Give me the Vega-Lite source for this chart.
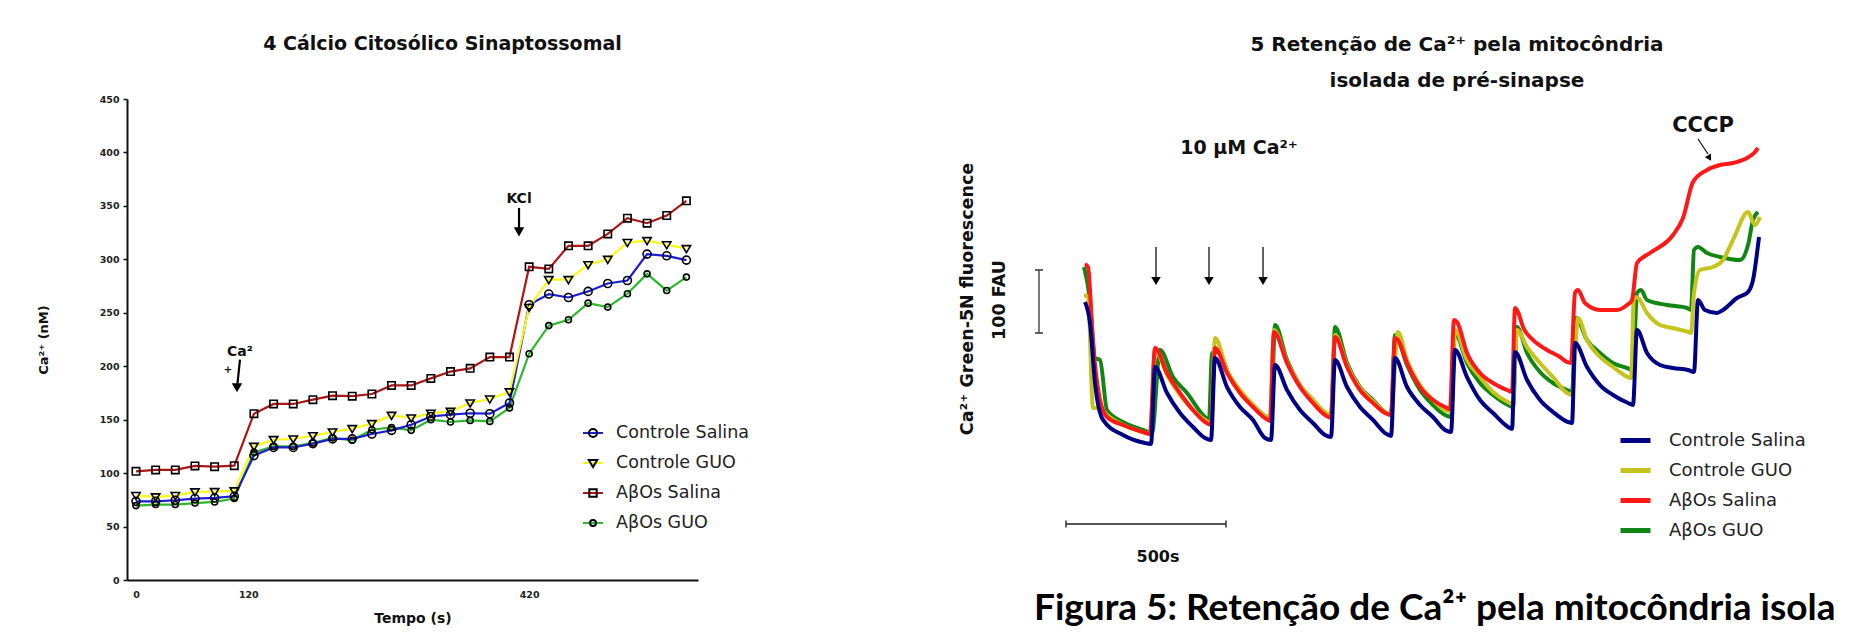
{
  "$schema": "https://vega.github.io/schema/vega-lite/v6.json",
  "autosize": {"type": "none"},
  "padding": {"left": 127, "top": 99, "right": 1732, "bottom": 533},
  "background": "white",
  "bounds": "flush",
  "spacing": 242,
  "config": {
    "view": {"stroke": null},
    "font": "DejaVu Sans",
    "axis": {"grid": false, "domainColor": "#111", "domainWidth": 2, "tickColor": "#111", "labelColor": "#222", "labelFont": "DejaVu Sans", "labelFontWeight": "bold", "labelFontSize": 9.5, "titleFont": "DejaVu Sans", "titleFontWeight": "bold", "titleColor": "#111", "labelOverlap": false, "labelFlush": false},
    "legend": {"labelFont": "DejaVu Sans", "labelColor": "#222"},
    "title": {"font": "DejaVu Sans", "fontWeight": "bold", "color": "#111"}
  },
  "resolve": {"scale": {"color": "independent", "shape": "independent"}, "legend": {"color": "independent", "shape": "independent"}},
  "datasets": {
    "left": [
      {"s":"AβOs GUO","t":0,"v":69.6},{"s":"AβOs GUO","t":21,"v":70.6},{"s":"AβOs GUO","t":42,"v":70.6},{"s":"AβOs GUO","t":63,"v":72},{"s":"AβOs GUO","t":84,"v":73},{"s":"AβOs GUO","t":105,"v":76.2},{"s":"AβOs GUO","t":126,"v":119.4},{"s":"AβOs GUO","t":147,"v":125},{"s":"AβOs GUO","t":168,"v":125},{"s":"AβOs GUO","t":189,"v":128.2},{"s":"AβOs GUO","t":210,"v":132.9},{"s":"AβOs GUO","t":231,"v":130.7},{"s":"AβOs GUO","t":252,"v":140.6},{"s":"AβOs GUO","t":273,"v":142.7},{"s":"AβOs GUO","t":294,"v":140},{"s":"AβOs GUO","t":315,"v":150},{"s":"AβOs GUO","t":336,"v":147.8},{"s":"AβOs GUO","t":357,"v":149.3},{"s":"AβOs GUO","t":378,"v":148.4},{"s":"AβOs GUO","t":399,"v":161},{"s":"AβOs GUO","t":420,"v":211.7},{"s":"AβOs GUO","t":441,"v":238},{"s":"AβOs GUO","t":462,"v":243.5},{"s":"AβOs GUO","t":483,"v":259},{"s":"AβOs GUO","t":504,"v":255.3},{"s":"AβOs GUO","t":525,"v":267.8},{"s":"AβOs GUO","t":546,"v":286.4},{"s":"AβOs GUO","t":567,"v":270.8},{"s":"AβOs GUO","t":588,"v":283.4},
      {"s":"Controle Salina","t":0,"v":73.6},{"s":"Controle Salina","t":21,"v":73.6},{"s":"Controle Salina","t":42,"v":74.6},{"s":"Controle Salina","t":63,"v":76.2},{"s":"Controle Salina","t":84,"v":76.8},{"s":"Controle Salina","t":105,"v":78.3},{"s":"Controle Salina","t":126,"v":116.4},{"s":"Controle Salina","t":147,"v":124},{"s":"Controle Salina","t":168,"v":124},{"s":"Controle Salina","t":189,"v":127.6},{"s":"Controle Salina","t":210,"v":132},{"s":"Controle Salina","t":231,"v":132},{"s":"Controle Salina","t":252,"v":136.6},{"s":"Controle Salina","t":273,"v":140},{"s":"Controle Salina","t":294,"v":145.3},{"s":"Controle Salina","t":315,"v":153},{"s":"Controle Salina","t":336,"v":154.7},{"s":"Controle Salina","t":357,"v":156},{"s":"Controle Salina","t":378,"v":155.6},{"s":"Controle Salina","t":399,"v":165.6},{"s":"Controle Salina","t":420,"v":257.5},{"s":"Controle Salina","t":441,"v":267.5},{"s":"Controle Salina","t":462,"v":264.3},{"s":"Controle Salina","t":483,"v":270},{"s":"Controle Salina","t":504,"v":277.4},{"s":"Controle Salina","t":525,"v":280.2},{"s":"Controle Salina","t":546,"v":304.9},{"s":"Controle Salina","t":567,"v":303.3},{"s":"Controle Salina","t":588,"v":299.3},
      {"s":"Controle GUO","t":0,"v":79},{"s":"Controle GUO","t":21,"v":77.8},{"s":"Controle GUO","t":42,"v":79},{"s":"Controle GUO","t":63,"v":82.4},{"s":"Controle GUO","t":84,"v":82.7},{"s":"Controle GUO","t":105,"v":83.4},{"s":"Controle GUO","t":126,"v":125},{"s":"Controle GUO","t":147,"v":131.3},{"s":"Controle GUO","t":168,"v":131.9},{"s":"Controle GUO","t":189,"v":135},{"s":"Controle GUO","t":210,"v":138.5},{"s":"Controle GUO","t":231,"v":141.6},{"s":"Controle GUO","t":252,"v":146.3},{"s":"Controle GUO","t":273,"v":154},{"s":"Controle GUO","t":294,"v":151.6},{"s":"Controle GUO","t":315,"v":156},{"s":"Controle GUO","t":336,"v":157.8},{"s":"Controle GUO","t":357,"v":165.6},{"s":"Controle GUO","t":378,"v":169.3},{"s":"Controle GUO","t":399,"v":176},{"s":"Controle GUO","t":420,"v":255},{"s":"Controle GUO","t":441,"v":281},{"s":"Controle GUO","t":462,"v":281},{"s":"Controle GUO","t":483,"v":295},{"s":"Controle GUO","t":504,"v":300},{"s":"Controle GUO","t":525,"v":315.7},{"s":"Controle GUO","t":546,"v":317.5},{"s":"Controle GUO","t":567,"v":313.6},{"s":"Controle GUO","t":588,"v":310},
      {"s":"AβOs Salina","t":0,"v":101.7},{"s":"AβOs Salina","t":21,"v":103},{"s":"AβOs Salina","t":42,"v":103},{"s":"AβOs Salina","t":63,"v":106.7},{"s":"AβOs Salina","t":84,"v":106},{"s":"AβOs Salina","t":105,"v":107},{"s":"AβOs Salina","t":126,"v":155.6},{"s":"AβOs Salina","t":147,"v":164.7},{"s":"AβOs Salina","t":168,"v":164.7},{"s":"AβOs Salina","t":189,"v":168.7},{"s":"AβOs Salina","t":210,"v":172.4},{"s":"AβOs Salina","t":231,"v":172},{"s":"AβOs Salina","t":252,"v":174},{"s":"AβOs Salina","t":273,"v":182},{"s":"AβOs Salina","t":294,"v":182},{"s":"AβOs Salina","t":315,"v":188.6},{"s":"AβOs Salina","t":336,"v":195},{"s":"AβOs Salina","t":357,"v":198},{"s":"AβOs Salina","t":378,"v":208.6},{"s":"AβOs Salina","t":399,"v":208.6},{"s":"AβOs Salina","t":420,"v":293},{"s":"AβOs Salina","t":441,"v":291},{"s":"AβOs Salina","t":462,"v":312.6},{"s":"AβOs Salina","t":483,"v":312.6},{"s":"AβOs Salina","t":504,"v":323.8},{"s":"AβOs Salina","t":525,"v":338.5},{"s":"AβOs Salina","t":546,"v":333.8},{"s":"AβOs Salina","t":567,"v":341},{"s":"AβOs Salina","t":588,"v":354.7}
    ],
    "right": [
      {"s":"AβOs GUO","t":-3.1,"F":496.8},{"s":"AβOs GUO","t":15.6,"F":444.4},{"s":"AβOs GUO","t":31.3,"F":352.4},{"s":"AβOs GUO","t":46.9,"F":349.2},{"s":"AβOs GUO","t":68.8,"F":269.8},{"s":"AβOs GUO","t":118.8,"F":250.8},{"s":"AβOs GUO","t":181.3,"F":238.1},{"s":"AβOs GUO","t":209.4,"F":233.3},{"s":"AβOs GUO","t":234.4,"F":365.1},{"s":"AβOs GUO","t":275,"F":322.2},{"s":"AβOs GUO","t":318.8,"F":296.8},{"s":"AβOs GUO","t":368.8,"F":261.9},{"s":"AβOs GUO","t":387.5,"F":254},{"s":"AβOs GUO","t":396.9,"F":360.3},{"s":"AβOs GUO","t":415.6,"F":361.9},{"s":"AβOs GUO","t":453.1,"F":322.2},{"s":"AβOs GUO","t":484.4,"F":298.4},{"s":"AβOs GUO","t":525,"F":277.8},{"s":"AβOs GUO","t":562.5,"F":260.3},{"s":"AβOs GUO","t":581.3,"F":255.6},{"s":"AβOs GUO","t":593.8,"F":404.8},{"s":"AβOs GUO","t":631.3,"F":349.2},{"s":"AβOs GUO","t":671.9,"F":309.5},{"s":"AβOs GUO","t":712.5,"F":285.7},{"s":"AβOs GUO","t":750,"F":265.1},{"s":"AβOs GUO","t":768.8,"F":260.3},{"s":"AβOs GUO","t":781.3,"F":401.6},{"s":"AβOs GUO","t":818.8,"F":344.4},{"s":"AβOs GUO","t":859.4,"F":306.3},{"s":"AβOs GUO","t":900,"F":285.7},{"s":"AβOs GUO","t":937.5,"F":266.7},{"s":"AβOs GUO","t":956.3,"F":261.9},{"s":"AβOs GUO","t":968.8,"F":388.9},{"s":"AβOs GUO","t":1006.3,"F":341.3},{"s":"AβOs GUO","t":1046.9,"F":301.6},{"s":"AβOs GUO","t":1087.5,"F":277.8},{"s":"AβOs GUO","t":1125,"F":261.9},{"s":"AβOs GUO","t":1143.8,"F":258.7},{"s":"AβOs GUO","t":1156.3,"F":392.1},{"s":"AβOs GUO","t":1193.8,"F":344.4},{"s":"AβOs GUO","t":1234.4,"F":312.7},{"s":"AβOs GUO","t":1275,"F":293.7},{"s":"AβOs GUO","t":1321.9,"F":277.8},{"s":"AβOs GUO","t":1337.5,"F":274.6},{"s":"AβOs GUO","t":1350,"F":401.6},{"s":"AβOs GUO","t":1381.3,"F":360.3},{"s":"AβOs GUO","t":1421.9,"F":330.2},{"s":"AβOs GUO","t":1462.5,"F":312.7},{"s":"AβOs GUO","t":1506.3,"F":301.6},{"s":"AβOs GUO","t":1521.9,"F":298.4},{"s":"AβOs GUO","t":1534.4,"F":415.9},{"s":"AβOs GUO","t":1568.8,"F":381},{"s":"AβOs GUO","t":1609.4,"F":360.3},{"s":"AβOs GUO","t":1650,"F":344.4},{"s":"AβOs GUO","t":1693.8,"F":336.5},{"s":"AβOs GUO","t":1712.5,"F":333.3},{"s":"AβOs GUO","t":1725,"F":455.6},{"s":"AβOs GUO","t":1737.5,"F":460.3},{"s":"AβOs GUO","t":1756.3,"F":444.4},{"s":"AβOs GUO","t":1818.8,"F":436.5},{"s":"AβOs GUO","t":1881.3,"F":431.7},{"s":"AβOs GUO","t":1893.8,"F":428.6},{"s":"AβOs GUO","t":1903.1,"F":523.8},{"s":"AβOs GUO","t":1915.6,"F":528.6},{"s":"AβOs GUO","t":1943.8,"F":519},{"s":"AβOs GUO","t":1984.4,"F":512.7},{"s":"AβOs GUO","t":2046.9,"F":507.9},{"s":"AβOs GUO","t":2071.9,"F":531.7},{"s":"AβOs GUO","t":2087.5,"F":571.4},{"s":"AβOs GUO","t":2103.1,"F":584.1},
      {"s":"Controle GUO","t":-3.1,"F":452.4},{"s":"Controle GUO","t":9.4,"F":449.2},{"s":"Controle GUO","t":25,"F":273},{"s":"Controle GUO","t":46.9,"F":273},{"s":"Controle GUO","t":68.8,"F":261.9},{"s":"Controle GUO","t":118.8,"F":246},{"s":"Controle GUO","t":181.3,"F":234.9},{"s":"Controle GUO","t":203.1,"F":231.7},{"s":"Controle GUO","t":218.8,"F":365.1},{"s":"Controle GUO","t":256.3,"F":325.4},{"s":"Controle GUO","t":296.9,"F":293.7},{"s":"Controle GUO","t":337.5,"F":269.8},{"s":"Controle GUO","t":375,"F":254},{"s":"Controle GUO","t":393.8,"F":249.2},{"s":"Controle GUO","t":406.3,"F":384.1},{"s":"Controle GUO","t":443.8,"F":333.3},{"s":"Controle GUO","t":484.4,"F":301.6},{"s":"Controle GUO","t":525,"F":277.8},{"s":"Controle GUO","t":562.5,"F":260.3},{"s":"Controle GUO","t":578.1,"F":255.6},{"s":"Controle GUO","t":590.6,"F":396.8},{"s":"Controle GUO","t":631.3,"F":346},{"s":"Controle GUO","t":671.9,"F":309.5},{"s":"Controle GUO","t":712.5,"F":285.7},{"s":"Controle GUO","t":750,"F":266.7},{"s":"Controle GUO","t":768.8,"F":261.9},{"s":"Controle GUO","t":781.3,"F":388.9},{"s":"Controle GUO","t":818.8,"F":341.3},{"s":"Controle GUO","t":859.4,"F":304.8},{"s":"Controle GUO","t":900,"F":284.1},{"s":"Controle GUO","t":937.5,"F":266.7},{"s":"Controle GUO","t":956.3,"F":263.5},{"s":"Controle GUO","t":978.1,"F":393.7},{"s":"Controle GUO","t":1006.3,"F":349.2},{"s":"Controle GUO","t":1046.9,"F":309.5},{"s":"Controle GUO","t":1087.5,"F":285.7},{"s":"Controle GUO","t":1125,"F":269.8},{"s":"Controle GUO","t":1143.8,"F":266.7},{"s":"Controle GUO","t":1156.3,"F":396.8},{"s":"Controle GUO","t":1193.8,"F":349.2},{"s":"Controle GUO","t":1234.4,"F":322.2},{"s":"Controle GUO","t":1275,"F":298.4},{"s":"Controle GUO","t":1321.9,"F":282.5},{"s":"Controle GUO","t":1337.5,"F":279.4},{"s":"Controle GUO","t":1350,"F":396.8},{"s":"Controle GUO","t":1381.3,"F":369.8},{"s":"Controle GUO","t":1421.9,"F":344.4},{"s":"Controle GUO","t":1462.5,"F":322.2},{"s":"Controle GUO","t":1506.3,"F":296.8},{"s":"Controle GUO","t":1521.9,"F":293.7},{"s":"Controle GUO","t":1540.6,"F":415.9},{"s":"Controle GUO","t":1568.8,"F":381},{"s":"Controle GUO","t":1609.4,"F":354},{"s":"Controle GUO","t":1650,"F":338.1},{"s":"Controle GUO","t":1696.9,"F":322.2},{"s":"Controle GUO","t":1706.3,"F":320.6},{"s":"Controle GUO","t":1715.6,"F":449.2},{"s":"Controle GUO","t":1728.1,"F":447.6},{"s":"Controle GUO","t":1756.3,"F":423.8},{"s":"Controle GUO","t":1796.9,"F":404.8},{"s":"Controle GUO","t":1837.5,"F":400},{"s":"Controle GUO","t":1884.4,"F":393.7},{"s":"Controle GUO","t":1893.8,"F":392.1},{"s":"Controle GUO","t":1903.1,"F":455.6},{"s":"Controle GUO","t":1921.9,"F":492.1},{"s":"Controle GUO","t":1962.5,"F":496.8},{"s":"Controle GUO","t":1993.8,"F":507.9},{"s":"Controle GUO","t":2025,"F":539.7},{"s":"Controle GUO","t":2071.9,"F":584.1},{"s":"Controle GUO","t":2093.8,"F":563.5},{"s":"Controle GUO","t":2109.4,"F":576.2},
      {"s":"AβOs Salina","t":0,"F":501.6},{"s":"AβOs Salina","t":9.4,"F":496.8},{"s":"AβOs Salina","t":25,"F":376.2},{"s":"AβOs Salina","t":46.9,"F":285.7},{"s":"AβOs Salina","t":68.8,"F":258.7},{"s":"AβOs Salina","t":118.8,"F":246},{"s":"AβOs Salina","t":181.3,"F":234.9},{"s":"AβOs Salina","t":203.1,"F":231.7},{"s":"AβOs Salina","t":218.8,"F":368.3},{"s":"AβOs Salina","t":256.3,"F":328.6},{"s":"AβOs Salina","t":296.9,"F":296.8},{"s":"AβOs Salina","t":337.5,"F":269.8},{"s":"AβOs Salina","t":375,"F":250.8},{"s":"AβOs Salina","t":393.8,"F":246},{"s":"AβOs Salina","t":406.3,"F":368.3},{"s":"AβOs Salina","t":443.8,"F":328.6},{"s":"AβOs Salina","t":484.4,"F":296.8},{"s":"AβOs Salina","t":525,"F":274.6},{"s":"AβOs Salina","t":562.5,"F":257.1},{"s":"AβOs Salina","t":578.1,"F":252.4},{"s":"AβOs Salina","t":590.6,"F":393.7},{"s":"AβOs Salina","t":631.3,"F":344.4},{"s":"AβOs Salina","t":671.9,"F":306.3},{"s":"AβOs Salina","t":712.5,"F":281},{"s":"AβOs Salina","t":750,"F":261.9},{"s":"AβOs Salina","t":768.8,"F":257.1},{"s":"AβOs Salina","t":781.3,"F":385.7},{"s":"AβOs Salina","t":818.8,"F":338.1},{"s":"AβOs Salina","t":859.4,"F":301.6},{"s":"AβOs Salina","t":900,"F":281},{"s":"AβOs Salina","t":937.5,"F":265.1},{"s":"AβOs Salina","t":956.3,"F":261.9},{"s":"AβOs Salina","t":968.8,"F":384.1},{"s":"AβOs Salina","t":978.1,"F":381},{"s":"AβOs Salina","t":1006.3,"F":344.4},{"s":"AβOs Salina","t":1046.9,"F":306.3},{"s":"AβOs Salina","t":1087.5,"F":285.7},{"s":"AβOs Salina","t":1125,"F":274.6},{"s":"AβOs Salina","t":1140.6,"F":271.4},{"s":"AβOs Salina","t":1153.1,"F":412.7},{"s":"AβOs Salina","t":1162.5,"F":409.5},{"s":"AβOs Salina","t":1193.8,"F":360.3},{"s":"AβOs Salina","t":1234.4,"F":328.6},{"s":"AβOs Salina","t":1275,"F":312.7},{"s":"AβOs Salina","t":1318.8,"F":301.6},{"s":"AβOs Salina","t":1334.4,"F":298.4},{"s":"AβOs Salina","t":1343.8,"F":431.7},{"s":"AβOs Salina","t":1353.1,"F":425.4},{"s":"AβOs Salina","t":1368.8,"F":401.6},{"s":"AβOs Salina","t":1400,"F":381},{"s":"AβOs Salina","t":1443.8,"F":365.1},{"s":"AβOs Salina","t":1484.4,"F":354},{"s":"AβOs Salina","t":1506.3,"F":346},{"s":"AβOs Salina","t":1518.8,"F":344.4},{"s":"AβOs Salina","t":1531.3,"F":455.6},{"s":"AβOs Salina","t":1540.6,"F":460.3},{"s":"AβOs Salina","t":1562.5,"F":439.7},{"s":"AβOs Salina","t":1609.4,"F":428.6},{"s":"AβOs Salina","t":1662.5,"F":428.6},{"s":"AβOs Salina","t":1693.8,"F":436.5},{"s":"AβOs Salina","t":1709.4,"F":444.4},{"s":"AβOs Salina","t":1725,"F":503.2},{"s":"AβOs Salina","t":1765.6,"F":519},{"s":"AβOs Salina","t":1837.5,"F":547.6},{"s":"AβOs Salina","t":1868.8,"F":574.6},{"s":"AβOs Salina","t":1900,"F":631.7},{"s":"AβOs Salina","t":1943.8,"F":650.8},{"s":"AβOs Salina","t":1984.4,"F":658.7},{"s":"AβOs Salina","t":2025,"F":661.9},{"s":"AβOs Salina","t":2068.8,"F":669.8},{"s":"AβOs Salina","t":2093.8,"F":679.4},{"s":"AβOs Salina","t":2103.1,"F":685.7},
      {"s":"Controle Salina","t":0,"F":441.3},{"s":"Controle Salina","t":15.6,"F":407.9},{"s":"Controle Salina","t":31.3,"F":312.7},{"s":"Controle Salina","t":56.3,"F":254},{"s":"Controle Salina","t":118.8,"F":230.2},{"s":"Controle Salina","t":187.5,"F":217.5},{"s":"Controle Salina","t":206.3,"F":215.9},{"s":"Controle Salina","t":218.8,"F":338.1},{"s":"Controle Salina","t":256.3,"F":296.8},{"s":"Controle Salina","t":296.9,"F":265.1},{"s":"Controle Salina","t":337.5,"F":242.9},{"s":"Controle Salina","t":375,"F":225.4},{"s":"Controle Salina","t":393.8,"F":222.2},{"s":"Controle Salina","t":406.3,"F":352.4},{"s":"Controle Salina","t":443.8,"F":306.3},{"s":"Controle Salina","t":484.4,"F":274.6},{"s":"Controle Salina","t":525,"F":254},{"s":"Controle Salina","t":562.5,"F":225.4},{"s":"Controle Salina","t":581.3,"F":222.2},{"s":"Controle Salina","t":593.8,"F":341.3},{"s":"Controle Salina","t":631.3,"F":301.6},{"s":"Controle Salina","t":671.9,"F":269.8},{"s":"Controle Salina","t":712.5,"F":249.2},{"s":"Controle Salina","t":750,"F":230.2},{"s":"Controle Salina","t":768.8,"F":227},{"s":"Controle Salina","t":781.3,"F":349.2},{"s":"Controle Salina","t":818.8,"F":306.3},{"s":"Controle Salina","t":859.4,"F":274.6},{"s":"Controle Salina","t":900,"F":254},{"s":"Controle Salina","t":937.5,"F":233.3},{"s":"Controle Salina","t":956.3,"F":228.6},{"s":"Controle Salina","t":968.8,"F":352.4},{"s":"Controle Salina","t":1006.3,"F":306.3},{"s":"Controle Salina","t":1046.9,"F":277.8},{"s":"Controle Salina","t":1087.5,"F":258.7},{"s":"Controle Salina","t":1125,"F":238.1},{"s":"Controle Salina","t":1143.8,"F":234.9},{"s":"Controle Salina","t":1156.3,"F":365.1},{"s":"Controle Salina","t":1193.8,"F":322.2},{"s":"Controle Salina","t":1234.4,"F":285.7},{"s":"Controle Salina","t":1275,"F":265.1},{"s":"Controle Salina","t":1321.9,"F":242.9},{"s":"Controle Salina","t":1334.4,"F":239.7},{"s":"Controle Salina","t":1343.8,"F":361.9},{"s":"Controle Salina","t":1381.3,"F":317.5},{"s":"Controle Salina","t":1421.9,"F":285.7},{"s":"Controle Salina","t":1462.5,"F":266.7},{"s":"Controle Salina","t":1509.4,"F":250.8},{"s":"Controle Salina","t":1521.9,"F":249.2},{"s":"Controle Salina","t":1531.3,"F":376.2},{"s":"Controle Salina","t":1568.8,"F":338.1},{"s":"Controle Salina","t":1609.4,"F":309.5},{"s":"Controle Salina","t":1650,"F":293.7},{"s":"Controle Salina","t":1696.9,"F":281},{"s":"Controle Salina","t":1712.5,"F":277.8},{"s":"Controle Salina","t":1725,"F":396.8},{"s":"Controle Salina","t":1756.3,"F":360.3},{"s":"Controle Salina","t":1796.9,"F":341.3},{"s":"Controle Salina","t":1837.5,"F":336.5},{"s":"Controle Salina","t":1884.4,"F":333.3},{"s":"Controle Salina","t":1903.1,"F":330.2},{"s":"Controle Salina","t":1915.6,"F":444.4},{"s":"Controle Salina","t":1937.5,"F":428.6},{"s":"Controle Salina","t":1975,"F":423.8},{"s":"Controle Salina","t":1993.8,"F":428.6},{"s":"Controle Salina","t":2037.5,"F":447.6},{"s":"Controle Salina","t":2071.9,"F":457.1},{"s":"Controle Salina","t":2087.5,"F":476.2},{"s":"Controle Salina","t":2106.3,"F":544.4}
    ]
  },
  "hconcat": [
    {
      "width": 571,
      "height": 481,
      "title": {"text": "4  Cálcio Citosólico Sinaptossomal", "fontSize": 19, "offset": 40, "dx": 30},
      "encoding": {
        "x": {"field": "t", "type": "quantitative", "scale": {"domain": [-9.6, 600.4], "nice": false, "zero": false},
              "axis": {"values": [0, 120, 420], "ticks": false, "tickSize": 0, "labelPadding": 9, "title": "Tempo (s)", "titleFontSize": 14, "titlePadding": 13}},
        "y": {"field": "v", "type": "quantitative", "scale": {"domain": [0, 450], "nice": false},
              "axis": {"values": [0, 50, 100, 150, 200, 250, 300, 350, 400, 450], "tickSize": 4, "tickWidth": 1.5, "labelPadding": 4, "title": "Ca²⁺ (nM)", "titleFontSize": 13, "titlePadding": 49}}
      },
      "layer": [
        {
          "data": {"name": "left"},
          "mark": {"type": "line", "strokeWidth": 2.2},
          "encoding": {
            "color": {"field": "s", "type": "nominal",
                      "scale": {"domain": ["Controle Salina", "Controle GUO", "AβOs Salina", "AβOs GUO"], "range": ["#1c1cdc", "#fafa14", "#b01414", "#2cb82c"]},
                      "legend": {"title": null, "orient": "none", "legendX": 455, "legendY": 323, "symbolType": "stroke", "symbolSize": 400, "symbolStrokeWidth": 2, "labelFontSize": 17.5, "labelOffset": 12, "rowPadding": 10, "padding": 0}}
          }
        },
        {
          "data": {"name": "left"},
          "mark": {"type": "point", "filled": false, "stroke": "black", "strokeWidth": 1.6, "size": 400, "opacity": 1},
          "encoding": {
            "shape": {"field": "s", "type": "nominal", "sort": "descending",
                      "scale": {"range": ["M0.4,0A0.4,0.4,0,1,1,-0.4,0A0.4,0.4,0,1,1,0.4,0Z", "M-0.42,-0.3L0.42,-0.3L0,0.4Z", "M-0.37,-0.37H0.37V0.37H-0.37Z", "M0.3,0A0.3,0.3,0,1,1,-0.3,0A0.3,0.3,0,1,1,0.3,0Z"]},
                      "legend": {"title": null, "orient": "none", "legendX": 455, "legendY": 323, "symbolSize": 400, "symbolStrokeWidth": 2, "symbolStrokeColor": "black", "symbolFillColor": "transparent", "labelFontSize": 17.5, "labelOffset": 12, "rowPadding": 10, "padding": 0, "labelOpacity": 0}}
          }
        },
        {
          "data": {"values": [{"t": 111.1, "v": 206.1, "t2": 108.4, "v2": 183.6}, {"t": 409.2, "v": 348.1, "t2": 409.2, "v2": 329.4}]},
          "mark": {"type": "rule", "color": "black", "strokeWidth": 2.2},
          "encoding": {"x2": {"field": "t2"}, "y2": {"field": "v2"}}
        },
        {
          "data": {"values": [{"t": 107.9, "v": 179.9}, {"t": 409.2, "v": 325.7}]},
          "mark": {"type": "point", "shape": "triangle-down", "filled": true, "color": "black", "size": 110, "opacity": 1}
        },
        {
          "data": {"values": [{"label": "Ca²", "t": 111.1, "v": 213.6}, {"label": "KCl", "t": 409.2, "v": 356.5}]},
          "mark": {"type": "text", "font": "DejaVu Sans", "fontWeight": "bold", "fontSize": 14, "color": "#111"},
          "encoding": {"text": {"field": "label"}}
        },
        {
          "data": {"values": [{"label": "+", "t": 98.3, "v": 196.7}]},
          "mark": {"type": "text", "font": "DejaVu Sans", "fontWeight": "bold", "fontSize": 10, "color": "#111"},
          "encoding": {"text": {"field": "label"}}
        }
      ]
    },
    {
      "width": 910,
      "height": 481,
      "title": {"text": ["5  Retenção de Ca²⁺ pela mitocôndria", "isolada de pré-sinapse"], "fontSize": 20, "lineHeight": 36, "offset": 8, "dx": 62},
      "encoding": {
        "x": {"field": "t", "type": "quantitative", "scale": {"domain": [-453.125, 2390.625], "nice": false, "zero": false}, "axis": null},
        "y": {"field": "F", "type": "quantitative", "scale": {"domain": [0, 763.5], "nice": false, "zero": false}, "axis": null}
      },
      "layer": [
        {
          "data": {"name": "right"},
          "mark": {"type": "line", "strokeWidth": 4, "interpolate": "monotone"},
          "encoding": {
            "color": {"field": "s", "type": "nominal",
                      "scale": {"domain": ["Controle Salina", "Controle GUO", "AβOs Salina", "AβOs GUO"], "range": ["#000086", "#c4c41c", "#ff1818", "#128612"]},
                      "legend": {"title": null, "orient": "none", "legendX": 678, "legendY": 324, "symbolType": "stroke", "symbolSize": 900, "symbolStrokeWidth": 5, "labelFontSize": 18, "labelOffset": 16, "rowPadding": 2, "padding": 0}}
          }
        },
        {
          "data": {"values": [{"t": 221.9, "F": 528.6, "F2": 481}, {"t": 387.5, "F": 528.6, "F2": 481}, {"t": 556.3, "F": 528.6, "F2": 481}]},
          "mark": {"type": "rule", "color": "#111", "strokeWidth": 1.3},
          "encoding": {"y2": {"field": "F2"}}
        },
        {
          "data": {"values": [{"t": 221.9, "F": 474.6}, {"t": 387.5, "F": 474.6}, {"t": 556.3, "F": 474.6}]},
          "mark": {"type": "point", "shape": "triangle-down", "filled": true, "color": "black", "size": 90, "opacity": 1}
        },
        {
          "data": {"values": [{"t": 1915.6, "F": 700, "t2": 1946.9, "F2": 676.2}]},
          "mark": {"type": "rule", "color": "#111", "strokeWidth": 1.3},
          "encoding": {"x2": {"field": "t2"}, "y2": {"field": "F2"}}
        },
        {
          "data": {"values": [{"t": 1951.6, "F": 669.8}]},
          "mark": {"type": "point", "shape": "triangle-down", "filled": true, "color": "black", "size": 50, "angle": 329, "opacity": 1}
        },
        {
          "data": {"values": [{"t": -143.75, "F": 492.1, "F2": 392.1}]},
          "mark": {"type": "rule", "color": "#333", "strokeWidth": 1.3},
          "encoding": {"y2": {"field": "F2"}}
        },
        {
          "data": {"values": [{"t": -143.75, "F": 492.1}, {"t": -143.75, "F": 392.1}]},
          "mark": {"type": "tick", "orient": "horizontal", "color": "#333", "size": 8, "thickness": 1.5, "opacity": 1}
        },
        {
          "data": {"values": [{"t": -59.4, "t2": 440.6, "F": 88.9}]},
          "mark": {"type": "rule", "color": "#555", "strokeWidth": 2},
          "encoding": {"x2": {"field": "t2"}}
        },
        {
          "data": {"values": [{"t": -59.4, "F": 88.9}, {"t": 440.6, "F": 88.9}]},
          "mark": {"type": "tick", "orient": "vertical", "color": "#333", "size": 7, "thickness": 1.5, "opacity": 1}
        },
        {
          "data": {"values": [{"label": "10 μM Ca²⁺", "t": 481.3, "F": 685.7}]},
          "mark": {"type": "text", "font": "DejaVu Sans", "fontWeight": "bold", "fontSize": 19, "color": "#111"},
          "encoding": {"text": {"field": "label"}}
        },
        {
          "data": {"values": [{"label": "CCCP", "t": 1931.3, "F": 720.6}]},
          "mark": {"type": "text", "font": "DejaVu Sans", "fontWeight": "bold", "fontSize": 21, "color": "#111"},
          "encoding": {"text": {"field": "label"}}
        },
        {
          "data": {"values": [{"label": "500s", "t": 228.1, "F": 36.5}]},
          "mark": {"type": "text", "font": "DejaVu Sans", "fontWeight": "bold", "fontSize": 16, "color": "#111"},
          "encoding": {"text": {"field": "label"}}
        },
        {
          "data": {"values": [{"label": "100 FAU", "t": -265.6, "F": 444.4}, {"label": "Ca²⁺ Green-5N fluorescence", "t": -365.6, "F": 446}]},
          "mark": {"type": "text", "font": "DejaVu Sans", "fontWeight": "bold", "fontSize": 17.5, "angle": 270, "color": "#111"},
          "encoding": {"text": {"field": "label"}}
        },
        {
          "data": {"values": [{"label": "Figura 5: Retenção de  Ca²⁺ pela mitocôndria isola", "t": -159.4, "F": -63.5}]},
          "mark": {"type": "text", "font": "Lato", "fontWeight": "bold", "fontSize": 37, "align": "left", "baseline": "alphabetic", "color": "#000", "limit": 820, "ellipsis": ""},
          "encoding": {"text": {"field": "label"}}
        }
      ]
    }
  ]
}
